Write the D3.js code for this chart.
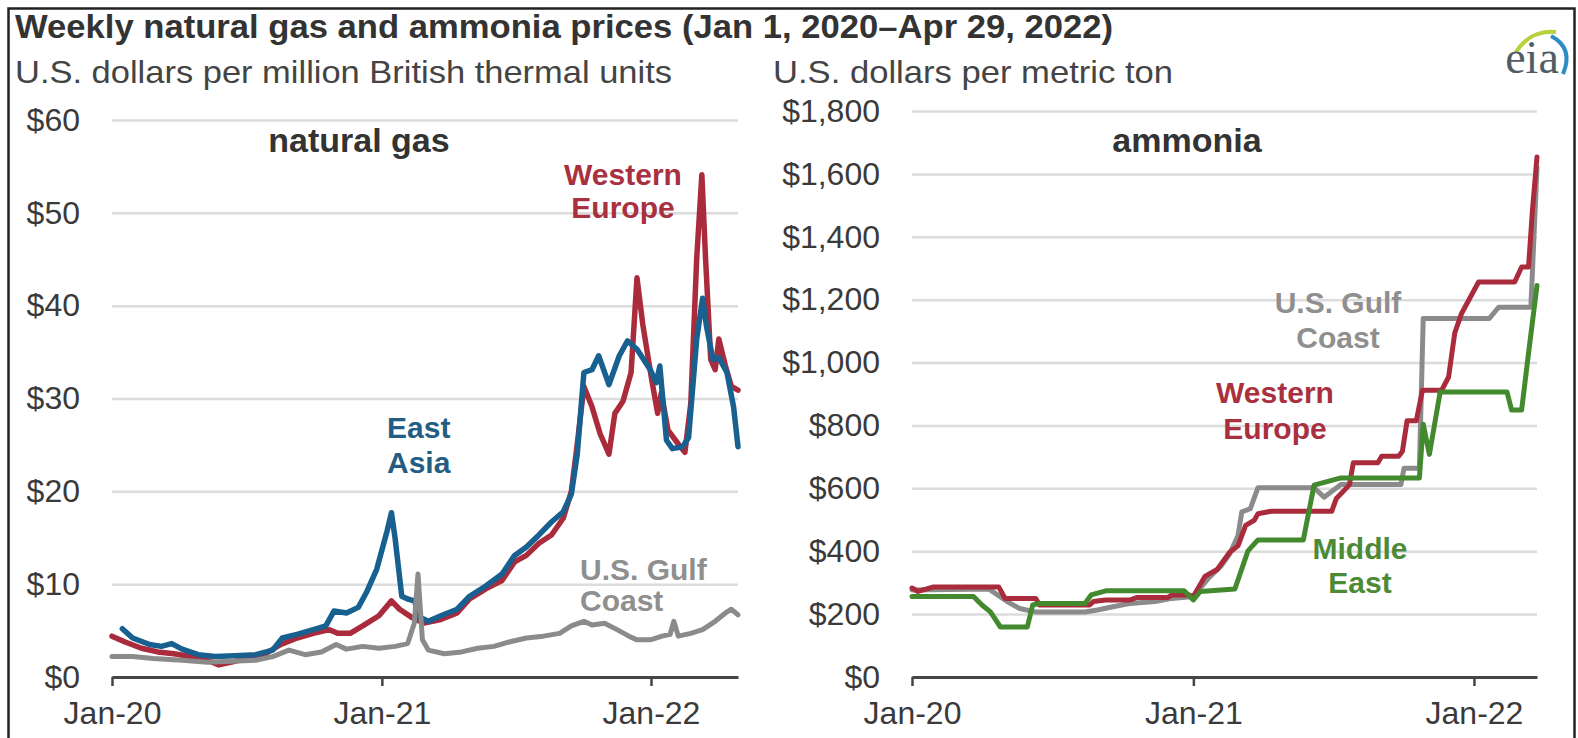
<!DOCTYPE html>
<html>
<head>
<meta charset="utf-8">
<script src="https://cdn.jsdelivr.net/npm/d3@7"></script>
<style>
  body { margin: 0; background: #fff; }
  text { font-family: "Liberation Sans", Arial, sans-serif; }
</style>
</head>
<body>
<div id="chart"></div>
<script>
// ---- data ----
var gasEurope = [["2020-01-01",4.4],["2020-01-18",3.8],["2020-02-10",3.1],["2020-03-03",2.7],["2020-03-25",2.5],["2020-04-16",2.2],["2020-05-09",1.8],["2020-05-25",1.3],["2020-06-11",1.6],["2020-07-03",2.0],["2020-07-25",2.4],["2020-08-17",3.5],["2020-09-08",4.2],["2020-09-30",4.7],["2020-10-22",5.1],["2020-11-02",4.7],["2020-11-19",4.7],["2020-12-06",5.5],["2020-12-28",6.6],["2021-01-14",8.2],["2021-01-25",7.3],["2021-02-11",6.4],["2021-02-27",5.8],["2021-03-22",6.2],["2021-04-13",6.9],["2021-04-30",8.4],["2021-05-22",9.5],["2021-06-13",10.4],["2021-06-30",12.4],["2021-07-16",13.1],["2021-08-02",14.4],["2021-08-19",15.3],["2021-09-04",17.1],["2021-09-15",20.0],["2021-09-23",25.1],["2021-10-02",31.3],["2021-10-13",29.1],["2021-10-24",26.2],["2021-11-05",24.0],["2021-11-13",28.4],["2021-11-24",29.7],["2021-12-05",32.8],["2021-12-13",43.0],["2021-12-21",37.9],["2022-01-02",32.0],["2022-01-10",28.4],["2022-01-15",30.6],["2022-01-24",26.6],["2022-02-07",25.1],["2022-02-16",24.2],["2022-02-24",29.5],["2022-03-04",45.1],["2022-03-11",54.1],["2022-03-16",45.1],["2022-03-23",34.2],["2022-03-29",33.1],["2022-04-03",36.4],["2022-04-12",33.5],["2022-04-20",31.3],["2022-04-29",30.9]];

var gasAsia = [["2020-01-15",5.2],["2020-01-29",4.2],["2020-02-21",3.5],["2020-03-08",3.3],["2020-03-22",3.6],["2020-04-05",3.0],["2020-04-27",2.4],["2020-05-20",2.2],["2020-06-16",2.3],["2020-07-14",2.4],["2020-08-06",2.9],["2020-08-19",4.2],["2020-09-08",4.6],["2020-09-30",5.1],["2020-10-17",5.5],["2020-10-28",7.1],["2020-11-14",6.9],["2020-11-30",7.5],["2020-12-11",9.1],["2020-12-25",11.6],["2021-01-08",15.7],["2021-01-14",17.7],["2021-01-19",14.9],["2021-01-28",8.7],["2021-02-05",8.4],["2021-02-14",8.2],["2021-02-22",6.4],["2021-03-05",6.0],["2021-03-22",6.6],["2021-04-13",7.3],["2021-04-30",8.7],["2021-05-22",9.8],["2021-06-13",11.1],["2021-06-30",13.1],["2021-07-16",14.0],["2021-08-02",15.3],["2021-08-19",16.7],["2021-09-04",17.8],["2021-09-15",19.7],["2021-09-23",24.0],["2021-10-02",32.8],["2021-10-13",33.1],["2021-10-22",34.6],["2021-11-05",31.5],["2021-11-19",34.6],["2021-11-30",36.2],["2021-12-13",35.3],["2021-12-31",33.1],["2022-01-08",31.7],["2022-01-13",33.5],["2022-01-22",25.5],["2022-01-30",24.6],["2022-02-13",24.8],["2022-02-21",25.8],["2022-03-04",36.4],["2022-03-12",40.8],["2022-03-17",37.9],["2022-03-26",34.2],["2022-04-03",34.4],["2022-04-14",32.8],["2022-04-23",29.1],["2022-04-29",24.8]];

var gasGulf = [["2020-01-01",2.2],["2020-01-29",2.2],["2020-02-26",2.0],["2020-04-05",1.8],["2020-05-09",1.6],["2020-06-11",1.7],["2020-07-14",1.8],["2020-08-06",2.2],["2020-08-28",2.9],["2020-09-19",2.4],["2020-10-11",2.7],["2020-10-31",3.5],["2020-11-14",3.0],["2020-12-06",3.3],["2020-12-28",3.1],["2021-01-19",3.3],["2021-02-05",3.6],["2021-02-14",5.8],["2021-02-19",11.1],["2021-02-25",4.0],["2021-03-05",2.9],["2021-03-27",2.5],["2021-04-19",2.7],["2021-05-11",3.1],["2021-06-02",3.3],["2021-06-24",3.8],["2021-07-16",4.2],["2021-08-08",4.4],["2021-08-30",4.7],["2021-09-15",5.5],["2021-10-02",6.0],["2021-10-13",5.6],["2021-10-30",5.8],["2021-11-16",5.1],["2021-12-02",4.4],["2021-12-13",4.0],["2021-12-31",4.0],["2022-01-16",4.4],["2022-01-27",4.6],["2022-02-01",6.0],["2022-02-07",4.4],["2022-02-24",4.7],["2022-03-12",5.1],["2022-03-29",6.0],["2022-04-12",6.9],["2022-04-20",7.3],["2022-04-29",6.7]];

var nh3Europe = [["2020-01-01",283],["2020-01-09",272],["2020-01-28",286],["2020-04-23",286],["2020-05-01",250],["2020-06-10",250],["2020-06-15",229],["2020-08-19",229],["2020-08-24",240],["2020-09-09",245],["2020-10-11",245],["2020-10-20",253],["2020-11-29",253],["2020-12-04",261],["2020-12-26",261],["2021-01-01",256],["2021-01-16",320],["2021-02-01",342],["2021-02-17",396],["2021-02-28",417],["2021-03-10",482],["2021-03-21",498],["2021-03-26",519],["2021-04-12",527],["2021-06-30",527],["2021-07-06",568],["2021-07-23",611],["2021-07-28",681],["2021-08-29",681],["2021-09-03",702],["2021-09-25",702],["2021-09-30",718],["2021-10-06",815],["2021-10-18",815],["2021-10-26",912],["2021-11-20",912],["2021-11-29",954],["2021-12-07",1094],["2021-12-16",1157],["2022-01-07",1256],["2022-02-23",1256],["2022-03-04",1304],["2022-03-13",1304],["2022-03-18",1482],["2022-03-24",1654]];

var nh3Gulf = [["2020-01-01",277],["2020-04-10",280],["2020-05-05",238],["2020-05-20",218],["2020-06-09",207],["2020-08-13",207],["2020-08-29",213],["2020-09-20",224],["2020-10-11",234],["2020-11-12",240],["2020-12-04",250],["2021-01-01",256],["2021-01-21",315],["2021-02-06",353],["2021-02-17",390],["2021-02-28",449],["2021-03-05",525],["2021-03-16",535],["2021-03-26",602],["2021-06-07",602],["2021-06-20",572],["2021-07-12",612],["2021-09-28",612],["2021-10-02",664],["2021-10-22",664],["2021-10-27",1140],["2022-01-21",1140],["2022-02-02",1176],["2022-03-16",1176],["2022-03-24",1620]];

var nh3MidEast = [["2020-01-01",256],["2020-03-21",256],["2020-04-01",229],["2020-04-12",207],["2020-04-25",159],["2020-05-30",159],["2020-06-06",229],["2020-06-15",234],["2020-08-13",234],["2020-08-21",261],["2020-09-09",274],["2020-12-20",274],["2021-01-01",245],["2021-01-10",272],["2021-02-24",280],["2021-03-13",401],["2021-03-26",436],["2021-05-24",436],["2021-06-07",610],["2021-07-12",633],["2021-10-22",633],["2021-10-27",804],["2021-11-04",708],["2021-11-18",906],["2022-02-13",906],["2022-02-19",849],["2022-03-04",849],["2022-03-13",1030],["2022-03-24",1245]];

var xTickDates  = ["2020-01-01","2021-01-01","2022-01-01"];
var xTickLabels = ["Jan-20","Jan-21","Jan-22"];
var gasTicks = [0,10,20,30,40,50,60];
var nh3Ticks = [0,200,400,600,800,1000,1200,1400,1600,1800];

var colors = {europe: "#a92b3c", asia: "#17608f", gulf: "#8b8b8b", mideast: "#43892e"};

// ---- setup ----
var W = 1578, H = 738;
var parseDate = d3.timeParse("%Y-%m-%d");
function prep(arr){ return arr.map(function(d){ return {date: parseDate(d[0]), value: d[1]}; }); }

var svg = d3.select("#chart").append("svg")
    .attr("width", W)
    .attr("height", H);

svg.append("rect").attr("width", W).attr("height", H).attr("fill", "#fff");

// frame
svg.append("rect")
    .attr("x", 8.5).attr("y", 8.5)
    .attr("width", 1566).attr("height", 760)
    .attr("fill", "none")
    .attr("stroke", "#222")
    .attr("stroke-width", 2.5);

// title + units
svg.append("text")
    .attr("x", 15).attr("y", 38)
    .attr("textLength", 1098).attr("lengthAdjust", "spacingAndGlyphs")
    .style("font-size", "33px").style("font-weight", "bold").attr("fill", "#333")
    .text("Weekly natural gas and ammonia prices (Jan 1, 2020\u2013Apr 29, 2022)");

svg.append("text")
    .attr("x", 15).attr("y", 83)
    .attr("textLength", 657).attr("lengthAdjust", "spacingAndGlyphs")
    .style("font-size", "32px").attr("fill", "#444")
    .text("U.S. dollars per million British thermal units");

svg.append("text")
    .attr("x", 773).attr("y", 83)
    .attr("textLength", 400).attr("lengthAdjust", "spacingAndGlyphs")
    .style("font-size", "32px").attr("fill", "#444")
    .text("U.S. dollars per metric ton");

function panel(opt){
    var x = d3.scaleTime()
        .domain([parseDate(opt.start), parseDate(opt.end)])
        .range([opt.x0, opt.x1]);
    var y = d3.scaleLinear()
        .domain([0, opt.ticks[opt.ticks.length - 1]])
        .range([677, opt.yTop]);

    // gridlines + y labels
    var gy = svg.append("g")
        .attr("transform", "translate(" + opt.x0 + ",0)")
        .call(d3.axisLeft(y).tickValues(opt.ticks).tickSize(-(opt.x1 - opt.x0)).tickPadding(32).tickFormat(opt.fmt))
        .attr("font-size", null).attr("font-family", null);
    gy.select(".domain").remove();
    gy.selectAll(".tick line").attr("stroke", "#dcdcdc").attr("stroke-width", 2.5);
    gy.selectAll(".tick text").attr("fill", "#3a3a3a").style("font-size", "32px");

    // panel name
    svg.append("text")
        .attr("x", opt.nameX).attr("y", 152)
        .attr("text-anchor", "middle")
        .style("font-size", "34px").style("font-weight", "bold").attr("fill", "#333")
        .text(opt.name);

    var line = d3.line()
        .x(function(d){ return x(d.date); })
        .y(function(d){ return y(d.value); });

    opt.series.forEach(function(s){
        svg.append("path")
            .datum(prep(s.data))
            .attr("fill", "none")
            .attr("stroke", s.color)
            .attr("stroke-width", s.width)
            .attr("stroke-linejoin", "round")
            .attr("stroke-linecap", "round")
            .attr("d", line);
    });

    // x axis
    var gx = svg.append("g")
        .attr("transform", "translate(0,677)")
        .call(d3.axisBottom(x)
            .tickValues(xTickDates.map(parseDate))
            .tickSize(9).tickSizeOuter(0).tickPadding(15)
            .tickFormat(function(d, i){ return xTickLabels[i]; }))
        .attr("font-size", null).attr("font-family", null);
    gx.select(".domain").attr("stroke", "#454545").attr("stroke-width", 3);
    gx.selectAll(".tick line").attr("stroke", "#454545").attr("stroke-width", 2.5);
    gx.selectAll(".tick text").attr("fill", "#3a3a3a").style("font-size", "32px");

    // series labels
    opt.labels.forEach(function(l){
        var t = svg.append("text")
            .attr("x", l.x).attr("y", l.y)
            .attr("text-anchor", l.anchor || "middle")
            .style("font-size", "30px").style("font-weight", "bold")
            .attr("fill", l.color);
        l.lines.forEach(function(s, i){
            t.append("tspan").attr("x", l.x).attr("dy", i === 0 ? 0 : l.gap).text(s);
        });
    });
}

panel({
    name: "natural gas", nameX: 359,
    start: "2020-01-01", end: "2022-04-29",
    x0: 112, x1: 738, yTop: 120,
    ticks: gasTicks,
    fmt: function(d){ return "$" + d; },
    series: [
        {data: gasEurope, color: colors.europe, width: 5.5},
        {data: gasAsia, color: colors.asia, width: 5.5},
        {data: gasGulf, color: colors.gulf, width: 5}
    ],
    labels: [
        {lines: ["Western", "Europe"], x: 623, y: 185, gap: 33, color: "#a8303f"},
        {lines: ["East", "Asia"], x: 387, y: 438, gap: 35, color: "#235d84", anchor: "start"},
        {lines: ["U.S. Gulf", "Coast"], x: 580, y: 580, gap: 31, color: "#8f8f8f", anchor: "start"}
    ]
});

panel({
    name: "ammonia", nameX: 1187,
    start: "2020-01-01", end: "2022-03-24",
    x0: 912, x1: 1537, yTop: 111,
    ticks: nh3Ticks,
    fmt: function(d){ return "$" + d3.format(",")(d); },
    series: [
        {data: nh3Gulf, color: colors.gulf, width: 5},
        {data: nh3Europe, color: colors.europe, width: 5},
        {data: nh3MidEast, color: colors.mideast, width: 5}
    ],
    labels: [
        {lines: ["U.S. Gulf", "Coast"], x: 1338, y: 313, gap: 35, color: "#8f8f8f"},
        {lines: ["Western", "Europe"], x: 1275, y: 403, gap: 36, color: "#a8303f"},
        {lines: ["Middle", "East"], x: 1360, y: 559, gap: 34, color: "#4d8a36"}
    ]
});

// eia logo
var logo = svg.append("g");
logo.append("path")
    .attr("d", "M1516,52 Q1530,30 1556,32")
    .attr("fill", "none").attr("stroke", "#b9d13c").attr("stroke-width", 4);
logo.append("path")
    .attr("d", "M1551,36 Q1574,48 1563,74")
    .attr("fill", "none").attr("stroke", "#2d8cc4").attr("stroke-width", 4);
logo.append("text")
    .attr("x", 1532).attr("y", 73)
    .attr("text-anchor", "middle")
    .style("font-family", "'Liberation Serif', 'DejaVu Serif', serif")
    .style("font-size", "46px").attr("fill", "#4f5d66")
    .text("eia");
</script>
</body>
</html>
